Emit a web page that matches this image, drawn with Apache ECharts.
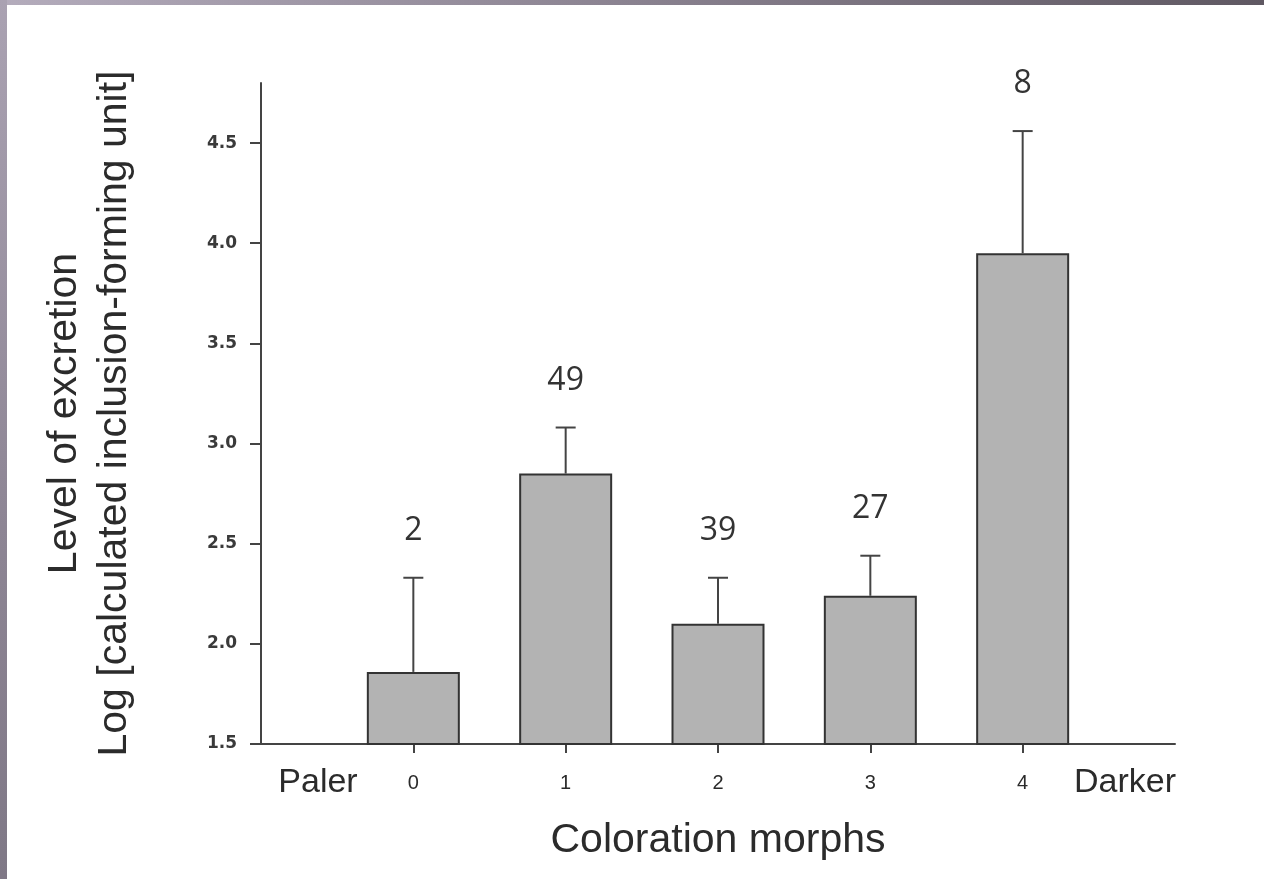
<!DOCTYPE html>
<html>
<head>
<meta charset="utf-8">
<script src="https://cdn.jsdelivr.net/npm/echarts@6/dist/echarts.min.js"></script>
<style>
  html, body { margin: 0; padding: 0; background: #fff; }
  #chart { width: 1264px; height: 879px; }
  .strip-top { position: absolute; left: 0; top: 0; width: 1264px; height: 5px;
    background: linear-gradient(to right, #b4acbc, #8a8290 50%, #5f5862); }
  .strip-left { position: absolute; left: 0; top: 0; width: 7px; height: 879px;
    background: linear-gradient(to bottom, #aaa2b2, #8d8594 60%, #7f7886); }
</style>
</head>
<body>
<div id="chart"></div>
<div class="strip-top"></div>
<div class="strip-left"></div>
<script>
// data
const categories = ['Paler', '0', '1', '2', '3', '4', 'Darker']
const means = ['-', 1.86, 2.85, 2.10, 2.24, 3.95, '-']
const upperErr = ['-', 2.33, 3.08, 2.33, 2.44, 4.56, '-']
const counts = ['', '2', '49', '39', '27', '8', '']
const yTicks = [1.5, 2.0, 2.5, 3.0, 3.5, 4.0, 4.5]

const font = '"Liberation Sans", Arial, sans-serif'
const ink = '#2b2b2b'

const myChart = echarts.init(document.getElementById('chart'))

// error bar + n label for each bar
const errData = categories.map((c, i) => [i, means[i], upperErr[i], counts[i]])
  .filter(d => d[1] !== '-')

myChart.setOption({
  animation: false,
  textStyle: { fontFamily: font, color: ink },
  grid: { left: 261, right: 89, top: 83, bottom: 135, containLabel: false, outerBoundsMode: 'none' },
  xAxis: {
    type: 'category',
    data: categories,
    boundaryGap: false,
    name: 'Coloration morphs',
    nameLocation: 'middle',
    nameGap: 76,
    nameTextStyle: { fontSize: 41, color: ink, fontFamily: font },
    axisLine: { lineStyle: { color: '#444', width: 2 } },
    axisTick: {
      length: 9,
      lineStyle: { color: '#444', width: 2 },
      interval: (i, v) => v !== 'Paler' && v !== 'Darker'
    },
    axisLabel: {
      interval: 0,
      margin: 24,
      formatter(v) {
        if (v === 'Paler') return '{pl|Paler}'
        if (v === 'Darker') return '{dk|Darker}'
        return '{n|' + v + '}'
      },
      rich: {
        pl: { fontSize: 34, lineHeight: 30, color: ink, fontFamily: font, padding: [0, 0, 0, 114] },
        dk: { fontSize: 34, lineHeight: 30, color: ink, fontFamily: font, padding: [0, 100, 0, 0] },
        n: { fontSize: 20, lineHeight: 30, color: ink, fontFamily: font }
      }
    }
  },
  yAxis: {
    type: 'value',
    min: 1.5,
    max: 4.8,
    interval: 0.5,
    name: 'Level of excretion\nLog [calculated inclusion-forming unit]',
    nameLocation: 'middle',
    nameGap: 121,
    nameRotate: 90,
    nameTextStyle: { fontSize: 41, lineHeight: 50, color: ink, fontFamily: font },
    splitLine: { show: false },
    axisLine: { show: true, lineStyle: { color: '#444', width: 2 } },
    axisTick: { show: true, length: 11, customValues: yTicks, lineStyle: { color: '#444', width: 2 } },
    axisLabel: {
      customValues: yTicks,
      margin: 24,
      fontSize: 17,
      fontWeight: 'bold',
      fontFamily: '"DejaVu Sans", sans-serif',
      color: '#3a3a3a',
      formatter: v => v.toFixed(1)
    }
  },
  series: [
    {
      type: 'bar',
      data: means,
      barWidth: 93,
      itemStyle: { color: '#b3b3b3', borderColor: '#333', borderWidth: 2 },
      z: 2
    },
    {
      type: 'custom',
      data: errData,
      z: 3,
      renderItem(params, api) {
        const base = api.coord([api.value(0), api.value(1)])
        const top = api.coord([api.value(0), api.value(2)])
        const cap = 10
        const line = { stroke: '#444', lineWidth: 2 }
        return {
          type: 'group',
          children: [
            { type: 'line', shape: { x1: base[0], y1: base[1], x2: top[0], y2: top[1] }, style: line },
            { type: 'line', shape: { x1: top[0] - cap, y1: top[1], x2: top[0] + cap, y2: top[1] }, style: line },
            {
              type: 'text',
              x: top[0],
              y: top[1] - 47,
              style: {
                text: api.value(3) + '',
                fontSize: 32,
                fontFamily: '"Open Sans", "Noto Sans", sans-serif',
                fill: '#333',
                align: 'center',
                verticalAlign: 'middle'
              }
            }
          ]
        }
      }
    }
  ]
})
</script>
</body>
</html>
